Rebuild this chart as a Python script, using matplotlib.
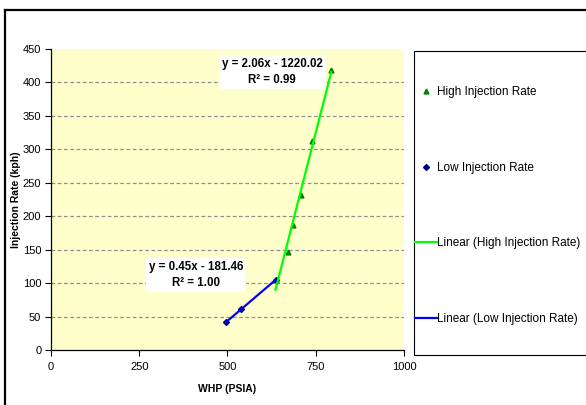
import numpy as np
import matplotlib
matplotlib.use("Agg")
import matplotlib.pyplot as plt
from matplotlib.lines import Line2D
from matplotlib.patches import Rectangle

# data
high_whp = [636, 671, 686, 709, 740, 794]
high_rate = [105, 146, 187, 231, 313, 418]
low_whp = [496, 539, 636]
low_rate = [42, 62, 105]

# trendline coefficients (slope, intercept) as shown on the chart
high_fit = (2.06, -1220.02)
low_fit = (0.45, -181.46)
high_label = "y = 2.06x - 1220.02\nR\u00b2 = 0.99"
low_label = "y = 0.45x - 181.46\nR\u00b2 = 1.00"

x_ticks = [0, 250, 500, 750, 1000]
y_ticks = list(range(0, 451, 50))

plt.rcParams["font.family"] = ["Liberation Sans", "DejaVu Sans"]
plt.rcParams["font.size"] = 8

W, H = 586, 405
fig = plt.figure(figsize=(W / 100, H / 100), dpi=100)
ax = fig.add_axes([51 / W, 1 - 350 / H, (404 - 51) / W, (350 - 49) / H])
ax.set_facecolor("#ffffcc")

# gridlines
for yv in y_ticks[1:-1]:
    ax.axhline(yv, color="#909090", linestyle=(0, (3, 2)), linewidth=0.9, zorder=1)

# points (mostly sit under the trendlines)
ax.plot(high_whp, high_rate, linestyle="none", marker="^", markersize=3.5,
        color="#008000", zorder=2)
ax.plot(low_whp, low_rate, linestyle="none", marker="D", markersize=3,
        color="#000080", zorder=2)

# trendlines
hx = np.array([min(high_whp), max(high_whp)])
lx = np.array([min(low_whp), max(low_whp)])
ax.plot(hx, high_fit[0] * hx + high_fit[1], color="#00ff00", linewidth=1.6, zorder=3)
ax.plot(lx, low_fit[0] * lx + low_fit[1], color="#0000ff", linewidth=1.6, zorder=3)

# equation labels
box = dict(facecolor="white", edgecolor="none", pad=2.0)
ax.text(627, 415, high_label, ha="center", va="center", fontweight="bold",
        fontsize=8.3, bbox=box, zorder=6, linespacing=1.45)
ax.text(412, 112, low_label, ha="center", va="center", fontweight="bold",
        fontsize=8.3, bbox=box, zorder=6, linespacing=1.45)

ax.set_xlim(0, 1000)
ax.set_ylim(0, 450)
ax.set_xticks(x_ticks)
ax.set_yticks(y_ticks)
ax.tick_params(direction="out", length=4, width=0.8, labelsize=8)
ax.tick_params(axis="x", pad=5)
ax.tick_params(axis="y", pad=3)
for side in ["top", "right"]:
    ax.spines[side].set_visible(False)
for side in ["left", "bottom"]:
    ax.spines[side].set_linewidth(0.9)

ax.set_xlabel("WHP (PSIA)", fontweight="bold", fontsize=7.5, labelpad=8)
ax.set_ylabel("Injection Rate (kph)", fontweight="bold", fontsize=7.5, labelpad=1)

# legend box (runs off the right edge)
fig.patches.append(Rectangle((414 / W, 1 - 355 / H), 200 / W, (355 - 51) / H,
                             transform=fig.transFigure, facecolor="white",
                             edgecolor="black", linewidth=0.8, zorder=0))
handles = [
    Line2D([], [], linestyle="none", marker="^", markersize=3.5, color="#008000"),
    Line2D([], [], linestyle="none", marker="D", markersize=3, color="#000080"),
    Line2D([], [], color="#00ff00", linewidth=1.6),
    Line2D([], [], color="#0000ff", linewidth=1.6),
]
labels = ["High Injection Rate", "Low Injection Rate",
          "Linear (High Injection Rate)", "Linear (Low Injection Rate)"]
fig.legend(handles, labels, loc="upper left", bbox_to_anchor=(409 / W, 1 - 80 / H),
           frameon=False, fontsize=8.5, handlelength=1.85, handletextpad=0.05,
           labelspacing=5.4, borderpad=0)

# outer chart frame
fig.add_artist(Line2D([5 / W, 5 / W], [0, 1 - 10 / H], transform=fig.transFigure,
                      color="black", linewidth=1.6))
fig.add_artist(Line2D([5 / W, 1], [1 - 10 / H, 1 - 10 / H], transform=fig.transFigure,
                      color="black", linewidth=1.6))

fig.savefig("out.png", dpi=100)
